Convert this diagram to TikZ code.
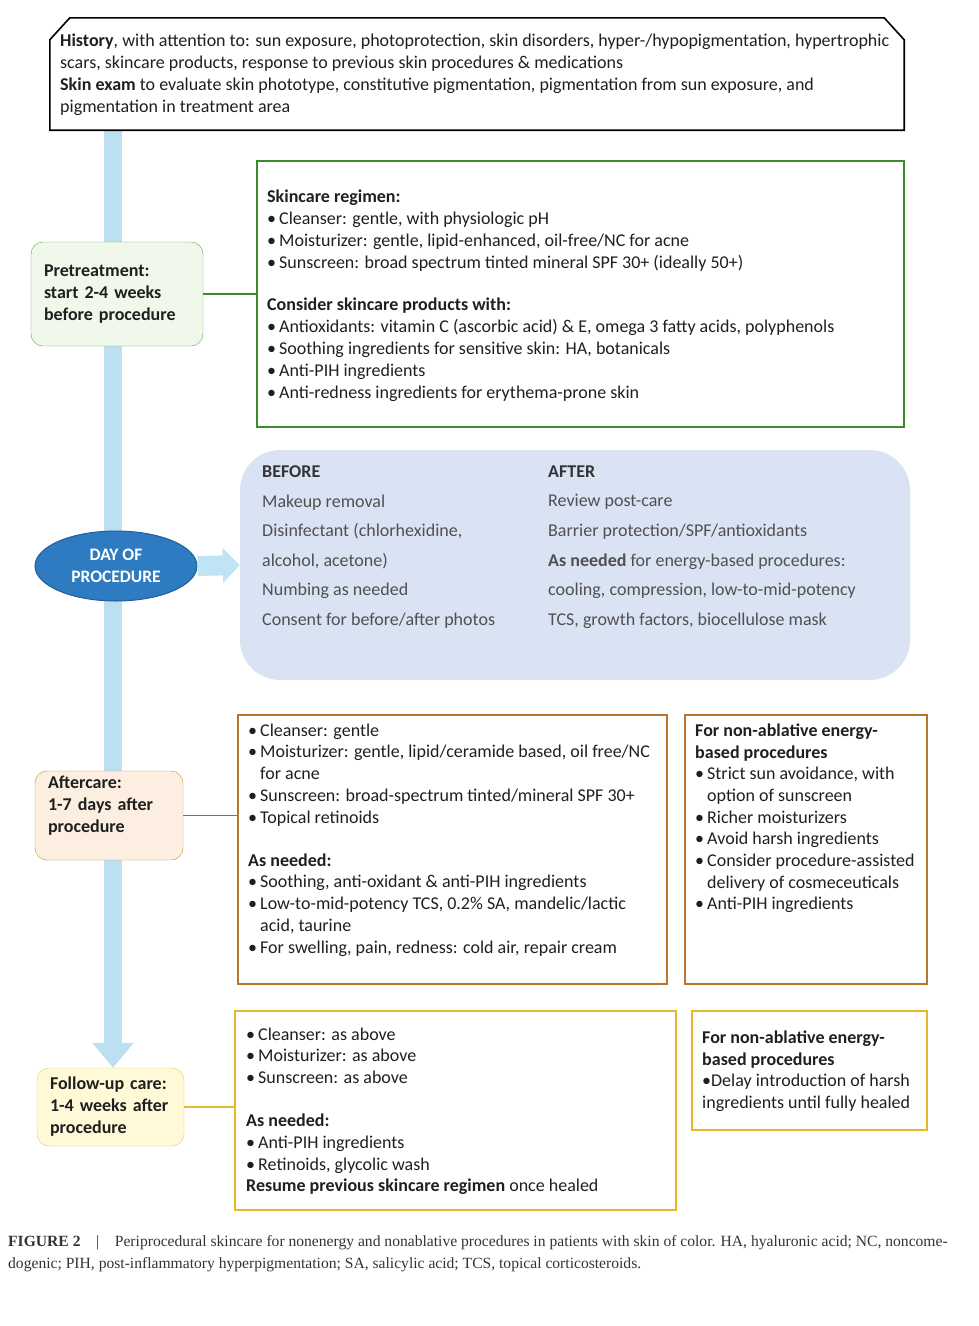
\documentclass[tikz,border=0pt]{standalone}
\usepackage{fontspec}
\setmainfont{Carlito}
\newfontfamily\capfont{Liberation Serif}
\usetikzlibrary{arrows.meta,backgrounds,shapes.geometric}

\definecolor{barblue}{HTML}{BDDFF2}
\definecolor{arrblue}{HTML}{BFE4F3}
\definecolor{dayblue}{HTML}{2E7BC2}
\definecolor{daydark}{HTML}{1F5E98}
\definecolor{dayfill}{HTML}{DAE3F3}
\definecolor{pregreen}{HTML}{F0F8EC}
\definecolor{preline}{HTML}{62A43F}
\definecolor{grnline}{HTML}{3B8A2C}
\definecolor{aftfill}{HTML}{FCEFE2}
\definecolor{aftline}{HTML}{C98A40}
\definecolor{aftbox}{HTML}{B8762C}
\definecolor{aftlink}{HTML}{C55A28}
\definecolor{folfill}{HTML}{FFF9D8}
\definecolor{folline}{HTML}{E6CA55}
\definecolor{folbox}{HTML}{E8B82A}
\definecolor{graytext}{HTML}{505050}

\newcommand{\bl}{\makebox[12pt][l]{\textbullet}}
\newcommand{\ind}{\hspace*{12pt}}

\begin{document}
\begin{tikzpicture}[x=1pt,y=1pt,
    txt/.style={align=left, inner sep=0pt, anchor=north west, text=black!88,
        font=\fontsize{18}{21.7}\selectfont},
    daytxt/.style={txt, text=graytext, font=\fontsize{18}{29.6}\selectfont},
    stage/.style={draw, rounded corners=12pt, align=left, inner xsep=13pt,
        font=\bfseries\fontsize{18}{22}\selectfont, text=black!88},
    frame/.style={draw, line width=1.8pt, inner sep=0pt}]

\useasboundingbox (0,0) rectangle (979,-1326);

% history and skin exam
\node[inner sep=0pt, minimum width=854, minimum height=112] (hist) at (477,-74) {};
\draw[line width=1.6pt] (hist.south west) -- ([yshift=-22pt]hist.north west)
    -- ([xshift=20pt]hist.north west) -- ([xshift=-20pt]hist.north east)
    -- ([yshift=-22pt]hist.north east) -- (hist.south east) -- cycle;
\node[txt, font=\fontsize{18}{22}\selectfont] (histTxt) at (60,-33.5) {\textbf{History}, with attention to: sun exposure, photoprotection, skin disorders, hyper-/hypopigmentation, hypertrophic\\
scars, skincare products, response to previous skin procedures \& medications\\
\textbf{Skin exam} to evaluate skin phototype, constitutive pigmentation, pigmentation from sun exposure, and\\
pigmentation in treatment area};

% pretreatment
\node[stage, fill=pregreen, draw=preline, text width=146, minimum height=104] (pre) at (117,-294)
    {Pretreatment:\\start 2-4 weeks\\before procedure};
\node[frame, draw=grnline, minimum width=647, minimum height=266] (grn) at (580.5,-294) {};
\node[txt, font=\fontsize{18}{22}\selectfont] (grnTxt) at (267,-189.5) {\textbf{Skincare regimen:}\\
\bl Cleanser: gentle, with physiologic pH\\
\bl Moisturizer: gentle, lipid-enhanced, oil-free/NC for acne\\
\bl Sunscreen: broad spectrum tinted mineral SPF 30+ (ideally 50+)\\[20pt]
\textbf{Consider skincare products with:}\\
\bl Antioxidants: vitamin C (ascorbic acid) \& E, omega 3 fatty acids, polyphenols\\
\bl Soothing ingredients for sensitive skin: HA, botanicals\\
\bl Anti-PIH ingredients\\
\bl Anti-redness ingredients for erythema-prone skin};
\draw[grnline, line width=1.2pt] (pre.east) -- (pre.east -| grn.west);

% day of procedure
\node[ellipse, fill=dayblue, draw=daydark, line width=1pt, minimum width=162, minimum height=70,
    inner sep=1pt, align=center, text=white, font=\bfseries\fontsize{17.5}{22}\selectfont] (day) at (116,-566)
    {DAY OF\\PROCEDURE};
\node[fill=dayfill, rounded corners=40pt, minimum width=670, minimum height=230] (dayBox) at (575,-565) {};
\node[daytxt] (befTxt) at (262,-465.5) {\textcolor{black!80}{\textbf{BEFORE}}\\
Makeup removal\\
Disinfectant (chlorhexidine,\\
alcohol, acetone)\\
Numbing as needed\\
Consent for before/after photos};
\node[daytxt] (aftTxt) at (548,-465.5) {\textcolor{black!80}{\textbf{AFTER}}\\
Review post-care\\
Barrier protection/SPF/antioxidants\\
\textbf{As needed} for energy-based procedures:\\
cooling, compression, low-to-mid-potency\\
TCS, growth factors, biocellulose mask};
\draw[arrblue, line width=20pt, -{Triangle[width=34pt,length=17pt]}] (day.east) -- (dayBox.west);

% aftercare
\node[stage, fill=aftfill, draw=aftline, text width=122, minimum height=89] (aft) at (109,-815.5)
    {Aftercare:\\1-7 days after\\procedure\\\mbox{}};
\node[frame, draw=aftbox, minimum width=429, minimum height=269] (aftBox) at (452.5,-849.5) {};
\node[frame, draw=aftbox, minimum width=242, minimum height=269] (aftRight) at (806,-849.5) {};
\node[txt] (aftBoxTxt) at (248,-723.5) {\bl Cleanser: gentle\\
\bl Moisturizer: gentle, lipid/ceramide based, oil free/NC\\
\ind for acne\\
\bl Sunscreen: broad-spectrum tinted/mineral SPF 30+\\
\bl Topical retinoids\\[21.5pt]
\textbf{As needed:}\\
\bl Soothing, anti-oxidant \& anti-PIH ingredients\\
\bl Low-to-mid-potency TCS, 0.2\% SA, mandelic/lactic\\
\ind acid, taurine\\
\bl For swelling, pain, redness: cold air, repair cream};
\node[txt] (aftRightTxt) at (695,-723.5) {\textbf{For non-ablative energy-}\\
\textbf{based procedures}\\
\bl Strict sun avoidance, with\\
\ind option of sunscreen\\
\bl Richer moisturizers\\
\bl Avoid harsh ingredients\\
\bl Consider procedure-assisted\\
\ind delivery of cosmeceuticals\\
\bl Anti-PIH ingredients};
\draw[aftlink, line width=1.4pt] (aft.east) -- (aft.east -| aftBox.west);

% follow-up care
\node[stage, fill=folfill, draw=folline, text width=121, minimum height=78] (fol) at (110.5,-1107)
    {Follow-up care:\\1-4 weeks after\\procedure};
\node[frame, draw=folbox, minimum width=441, minimum height=199] (folBox) at (455.5,-1110.5) {};
\node[frame, draw=folbox, minimum width=235, minimum height=119] (folRight) at (809.5,-1070.5) {};
\node[txt] (folBoxTxt) at (246,-1027.5) {\bl Cleanser: as above\\
\bl Moisturizer: as above\\
\bl Sunscreen: as above\\[21.5pt]
\textbf{As needed:}\\
\bl Anti-PIH ingredients\\
\bl Retinoids, glycolic wash\\
\textbf{Resume previous skincare regimen} once healed};
\node[txt] (folRightTxt) at (702,-1030.5) {\textbf{For non-ablative energy-}\\
\textbf{based procedures}\\
\textbullet Delay introduction of harsh\\
ingredients until fully healed};
\draw[folbox, line width=1.2pt] (fol.east) -- (fol.east -| folBox.west);

% timeline bar
\coordinate (barTop) at (113,-130);
\begin{scope}[on background layer]
\draw[barblue, line width=18pt, -{Triangle[width=40pt,length=25pt]}] (barTop) -- (barTop |- fol.north);
\end{scope}

% caption
\node[anchor=west, inner sep=0pt, text=black!80, font=\capfont\fontsize{15.6}{20}\selectfont] (cap1) at (8,-1243)
    {\textbf{FIGURE 2}\quad|\quad Periprocedural skincare for nonenergy and nonablative procedures in patients with skin of color. HA, hyaluronic acid; NC, noncome-};
\node[anchor=west, inner sep=0pt, text=black!80, font=\capfont\fontsize{15.6}{20}\selectfont] (cap2) at (8,-1265)
    {dogenic; PIH, post-inflammatory hyperpigmentation; SA, salicylic acid; TCS, topical corticosteroids.};
\end{tikzpicture}
\end{document}
